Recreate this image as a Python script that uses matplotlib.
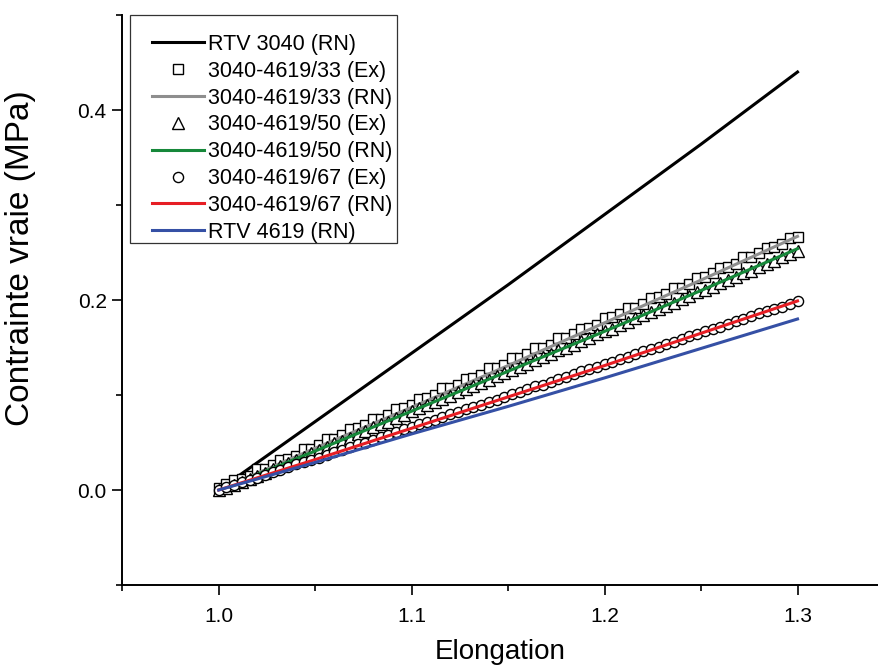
import matplotlib.pyplot as plt
from matplotlib.patches import Rectangle
from matplotlib.ticker import MultipleLocator

plt.rcParams['font.family'] = ['Liberation Sans', 'DejaVu Sans']

# model curves (RN) read at a few elongations
lam_rn = [1.00, 1.05, 1.10, 1.15, 1.20, 1.25, 1.30]
rtv3040_rn = [0.0, 0.072, 0.144, 0.216, 0.290, 0.364, 0.440]
mix33_rn = [0.0, 0.044, 0.087, 0.131, 0.176, 0.221, 0.267]
mix50_rn = [0.0, 0.041, 0.083, 0.125, 0.167, 0.210, 0.254]
mix67_rn = [0.0, 0.032, 0.065, 0.098, 0.131, 0.165, 0.199]
rtv4619_rn = [0.0, 0.029, 0.059, 0.088, 0.118, 0.149, 0.180]

# experimental points (Ex)
lam_ex = [1.000, 1.004, 1.008, 1.012, 1.016, 1.020, 1.024, 1.028, 1.032, 1.036,
          1.040, 1.044, 1.048, 1.052, 1.056, 1.060, 1.064, 1.068, 1.072, 1.076,
          1.080, 1.084, 1.088, 1.092, 1.096, 1.100, 1.104, 1.108, 1.112, 1.116,
          1.120, 1.124, 1.128, 1.132, 1.136, 1.140, 1.144, 1.148, 1.152, 1.156,
          1.160, 1.164, 1.168, 1.172, 1.176, 1.180, 1.184, 1.188, 1.192, 1.196,
          1.200, 1.204, 1.208, 1.212, 1.216, 1.220, 1.224, 1.228, 1.232, 1.236,
          1.240, 1.244, 1.248, 1.252, 1.256, 1.260, 1.264, 1.268, 1.272, 1.276,
          1.280, 1.284, 1.288, 1.292, 1.296, 1.300]
mix33_ex = [0.002, 0.006, 0.011, 0.012, 0.015, 0.022, 0.022, 0.026, 0.032, 0.033,
            0.036, 0.043, 0.043, 0.047, 0.054, 0.054, 0.058, 0.064, 0.065, 0.068,
            0.075, 0.075, 0.079, 0.085, 0.086, 0.090, 0.096, 0.097, 0.100, 0.107,
            0.107, 0.111, 0.117, 0.118, 0.121, 0.128, 0.128, 0.132, 0.139, 0.139,
            0.143, 0.149, 0.150, 0.153, 0.160, 0.160, 0.164, 0.170, 0.171, 0.174,
            0.181, 0.182, 0.185, 0.192, 0.192, 0.196, 0.202, 0.203, 0.206, 0.213,
            0.213, 0.217, 0.223, 0.224, 0.228, 0.234, 0.235, 0.238, 0.245, 0.245,
            0.249, 0.255, 0.256, 0.259, 0.265, 0.266]
mix50_ex = [0.000, 0.002, 0.005, 0.008, 0.012, 0.015, 0.018, 0.022, 0.025, 0.028,
            0.032, 0.035, 0.039, 0.042, 0.045, 0.049, 0.052, 0.055, 0.059, 0.062,
            0.066, 0.069, 0.072, 0.076, 0.079, 0.083, 0.086, 0.089, 0.093, 0.096,
            0.099, 0.103, 0.106, 0.110, 0.113, 0.116, 0.120, 0.123, 0.126, 0.130,
            0.133, 0.137, 0.140, 0.143, 0.147, 0.150, 0.153, 0.157, 0.160, 0.164,
            0.167, 0.170, 0.174, 0.177, 0.181, 0.184, 0.187, 0.191, 0.194, 0.197,
            0.201, 0.204, 0.208, 0.211, 0.214, 0.218, 0.221, 0.224, 0.228, 0.231,
            0.235, 0.238, 0.241, 0.245, 0.248, 0.252]
mix67_ex = [0.000, 0.003, 0.005, 0.008, 0.011, 0.013, 0.016, 0.019, 0.021, 0.024,
            0.027, 0.029, 0.032, 0.034, 0.037, 0.040, 0.042, 0.045, 0.048, 0.050,
            0.053, 0.056, 0.058, 0.061, 0.064, 0.066, 0.069, 0.072, 0.074, 0.077,
            0.080, 0.082, 0.085, 0.087, 0.090, 0.093, 0.095, 0.098, 0.101, 0.103,
            0.106, 0.109, 0.111, 0.114, 0.117, 0.119, 0.122, 0.125, 0.127, 0.130,
            0.133, 0.135, 0.138, 0.140, 0.143, 0.146, 0.148, 0.151, 0.154, 0.156,
            0.159, 0.162, 0.164, 0.167, 0.170, 0.172, 0.175, 0.178, 0.180, 0.183,
            0.186, 0.188, 0.191, 0.193, 0.196, 0.199]

W, H = 879, 667
fig = plt.figure(figsize=(W / 100, H / 100), dpi=100)
ax = fig.add_axes([122 / W, 82 / H, 1 - 122 / W, (585 - 15) / H])

mk = dict(linestyle='none', markerfacecolor='white', markeredgecolor='black',
          markeredgewidth=1.0)
lw = 2.2

ax.plot(lam_rn, rtv3040_rn, color='black', lw=lw, label='RTV 3040 (RN)')
ax.plot(lam_ex, mix33_ex, marker='s', markersize=7.8, label='3040-4619/33 (Ex)', **mk)
ax.plot(lam_rn, mix33_rn, color='#8e8e8e', lw=lw, label='3040-4619/33 (RN)')
ax.plot(lam_ex, mix50_ex, marker='^', markersize=8.5, label='3040-4619/50 (Ex)', **mk)
ax.plot(lam_rn, mix50_rn, color='#16883a', lw=lw, label='3040-4619/50 (RN)')
ax.plot(lam_ex, mix67_ex, marker='o', markersize=7.3, label='3040-4619/67 (Ex)', **mk)
ax.plot(lam_rn, mix67_rn, color='#e61e24', lw=lw, label='3040-4619/67 (RN)')
ax.plot(lam_rn, rtv4619_rn, color='#3550a5', lw=lw, label='RTV 4619 (RN)')

ax.set_xlim(0.9499, 0.95 + (W - 122) / 1930)
ax.set_ylim(-0.1, 0.5)
ax.xaxis.set_major_locator(MultipleLocator(0.1))
ax.xaxis.set_minor_locator(MultipleLocator(0.05))
ax.yaxis.set_major_locator(MultipleLocator(0.2))
ax.yaxis.set_minor_locator(MultipleLocator(0.1))

for s in ['top', 'right']:
    ax.spines[s].set_visible(False)
for s in ['left', 'bottom']:
    ax.spines[s].set_linewidth(1.4)

ax.tick_params(axis='both', which='major', direction='out', length=7, width=1.2,
               labelsize=15)
ax.tick_params(axis='both', which='minor', direction='out', length=4, width=1.2)
ax.tick_params(axis='x', which='major', pad=9)
ax.tick_params(axis='y', which='major', pad=4)

ax.set_xlabel('Elongation', fontsize=20, labelpad=9)
ax.set_ylabel('Contrainte vraie (MPa)', fontsize=24)
ax.yaxis.set_label_coords((36 - 122) / 757, (585 - 258) / 570)

# legend without its own frame, box drawn separately
leg = ax.legend(loc='upper left', bbox_to_anchor=(152 / W, 1 - 34 / H),
                bbox_transform=fig.transFigure, borderaxespad=0, borderpad=0,
                fontsize=15.5, labelspacing=0.27, handlelength=2.4,
                handletextpad=0.2, frameon=False)
fig.patches.append(Rectangle((130 / W, 1 - 243 / H), (397 - 130) / W, (243 - 15) / H,
                             transform=fig.transFigure, fill=False,
                             edgecolor='#333333', lw=0.9, zorder=0))

fig.savefig('out.png', dpi=100)
